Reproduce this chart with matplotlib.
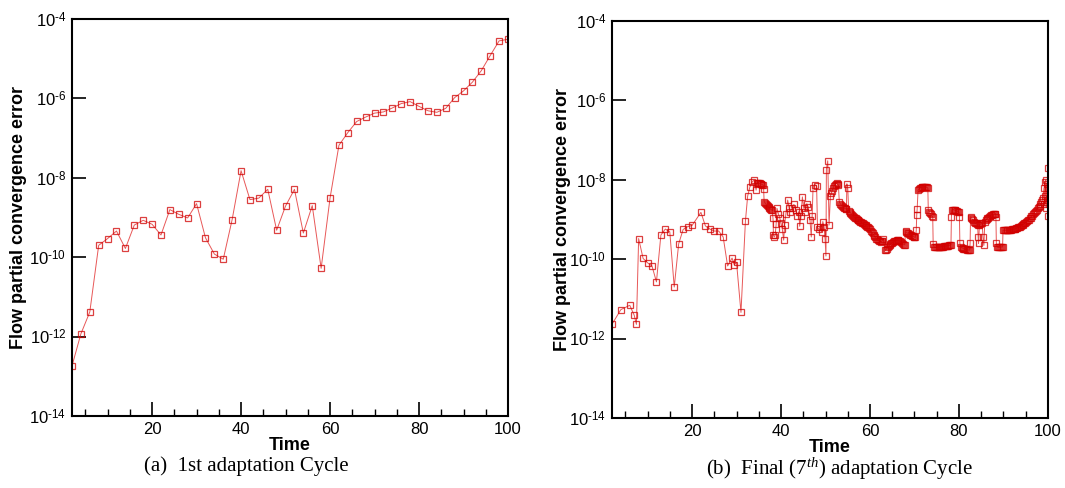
import matplotlib
matplotlib.use("Agg")
import matplotlib.pyplot as plt
import numpy as np

plt.rcParams['font.family'] = ['Liberation Sans', 'DejaVu Sans']
plt.rcParams['mathtext.fontset'] = 'custom'
plt.rcParams['mathtext.it'] = 'Liberation Serif:italic'
plt.rcParams['mathtext.rm'] = 'Liberation Sans'

# (a) 1st adaptation cycle: time and log10(error)
time_a = [2, 4, 6, 8, 10, 12, 14, 16, 18, 20, 22, 24, 26, 28, 30, 32, 34, 36, 38, 40,
          42, 44, 46, 48, 50, 52, 54, 56, 58, 60, 62, 64, 66, 68, 70, 72, 74, 76, 78, 80,
          82, 84, 86, 88, 90, 92, 94, 96, 98, 100]
exp_a = [-12.74, -11.93, -11.38, -9.70, -9.53, -9.34, -9.78, -9.19, -9.07, -9.17,
         -9.44, -8.80, -8.92, -9.01, -8.65, -9.51, -9.92, -10.05, -9.05, -7.82,
         -8.55, -8.51, -8.29, -9.32, -8.71, -8.29, -9.39, -8.70, -10.28, -8.51,
         -7.18, -6.86, -6.58, -6.47, -6.37, -6.34, -6.24, -6.13, -6.08, -6.20,
         -6.31, -6.35, -6.25, -5.98, -5.81, -5.59, -5.30, -4.92, -4.55, -4.51]

# (b) final (7th) adaptation cycle, (time, log10(error)) pairs in order
pts_b = [
    # early, sparse
    (2, -11.64), (4, -11.27), (6, -11.16), (7, -11.41), (7.5, -11.64), (8, -9.48), (9, -9.98),
    (10, -10.09), (11, -10.17), (12, -10.57), (13, -9.39), (14, -9.24), (15, -9.31), (16, -10.70),
    (17, -9.61), (18, -9.25), (19, -9.18), (20, -9.15), (22, -8.82), (23, -9.16), (24, -9.24),
    (25, -9.29), (26, -9.29), (27, -9.44), (28, -10.17), (29, -9.97), (29.5, -10.14), (30, -10.08),
    (31, -11.34), (32, -9.04), (32.5, -8.41), (33, -8.18), (33.5, -8.05), (34, -8.01), (34.4, -8.26),
    # first plateau
    (34.6, -8.09), (34.8, -8.08), (35.0, -8.08), (35.2, -8.09), (35.4, -8.10), (35.6, -8.11),
    (35.8, -8.12), (36.0, -8.13), (36.1, -8.24), (36.2, -8.55),
    (36.4, -8.58), (36.6, -8.61), (36.8, -8.64), (37.0, -8.67), (37.2, -8.69), (37.4, -8.71),
    (37.6, -8.73), (37.8, -8.75), (38.0, -8.76),
    # scattered middle
    (38.2, -8.97), (38.3, -9.40), (38.5, -9.44), (38.7, -9.38), (38.9, -9.12), (39.1, -8.72),
    (39.4, -8.85), (39.7, -8.95), (40.0, -9.10), (40.3, -9.25), (40.6, -9.52), (40.8, -9.14),
    (41.1, -8.85), (41.5, -8.51), (41.8, -8.70), (42.1, -8.80), (42.5, -8.72), (42.9, -8.62),
    (43.3, -8.75), (43.7, -8.90), (44.0, -8.80), (44.2, -9.17), (44.5, -8.90), (44.8, -8.43),
    (45.1, -8.70), (45.4, -8.80), (45.8, -8.60), (46.1, -8.68), (46.5, -9.00), (46.8, -9.44),
    (47.0, -8.90), (47.2, -8.20), (47.6, -8.12), (48.0, -8.15), (48.2, -9.20), (48.5, -9.25),
    (48.8, -9.18), (49.1, -9.31), (49.4, -9.05), (49.7, -9.20), (49.9, -9.48), (50.1, -9.92),
    (50.2, -7.74), (50.5, -7.52), (50.8, -9.14),
    # arc and long descent
    (51.1, -8.41), (51.3, -8.34), (51.5, -8.27), (51.7, -8.21), (51.9, -8.16), (52.1, -8.12),
    (52.3, -8.10), (52.5, -8.09), (52.7, -8.10), (52.9, -8.14), (53.1, -8.55),
    (53.3, -8.60), (53.5, -8.63), (53.7, -8.66), (53.9, -8.68), (54.1, -8.70), (54.3, -8.72),
    (54.5, -8.73), (54.7, -8.74), (54.8, -8.10), (55.0, -8.20),
    (55.2, -8.78), (55.4, -8.80), (55.6, -8.83), (55.8, -8.86), (56.0, -8.89), (56.2, -8.91),
    (56.4, -8.93), (56.6, -8.95), (56.8, -8.97), (57.0, -8.99), (57.2, -9.01), (57.4, -9.02),
    (57.6, -9.04), (57.8, -9.05), (58.0, -9.07), (58.2, -9.08), (58.4, -9.10), (58.6, -9.11),
    (58.8, -9.13), (59.0, -9.14), (59.2, -9.16), (59.4, -9.18), (59.6, -9.20), (59.8, -9.22),
    (60.0, -9.25), (60.2, -9.28), (60.4, -9.32), (60.6, -9.35), (60.8, -9.39), (61.0, -9.42),
    (61.2, -9.45), (61.4, -9.48), (61.6, -9.50), (61.8, -9.52), (62.0, -9.54), (62.2, -9.55),
    (62.4, -9.56), (62.6, -9.55), (62.8, -9.53), (63.0, -9.50),
    # hump
    (63.4, -9.78), (63.6, -9.76), (63.8, -9.73), (64.0, -9.70), (64.2, -9.67), (64.4, -9.64),
    (64.6, -9.62), (64.8, -9.60), (65.0, -9.58), (65.2, -9.56), (65.4, -9.55), (65.6, -9.54),
    (65.8, -9.53), (66.0, -9.52), (66.2, -9.52), (66.4, -9.52), (66.6, -9.53), (66.8, -9.55),
    (67.0, -9.57), (67.2, -9.59), (67.4, -9.61), (67.6, -9.63), (67.8, -9.64),
    (68.0, -9.30), (68.2, -9.32), (68.4, -9.34), (68.6, -9.35), (68.8, -9.37), (69.0, -9.38),
    (69.2, -9.40), (69.4, -9.41), (69.6, -9.42), (69.8, -9.43), (70.0, -9.44), (70.2, -9.45),
    (70.4, -9.27), (70.5, -8.89), (70.6, -8.74),
    # upper plateau, then steps
    (70.8, -8.26), (71.0, -8.23), (71.2, -8.21), (71.4, -8.20), (71.6, -8.19), (71.8, -8.18),
    (72.0, -8.18), (72.2, -8.18), (72.4, -8.18), (72.6, -8.18), (72.8, -8.19), (73.0, -8.21),
    (73.1, -8.76), (73.3, -8.80), (73.5, -8.84), (73.7, -8.87), (73.9, -8.90), (74.1, -8.93),
    (74.2, -9.62), (74.4, -9.69), (74.6, -9.70), (74.8, -9.70), (75.0, -9.70), (75.2, -9.70),
    (75.4, -9.69), (75.6, -9.69), (75.8, -9.69), (76.0, -9.68), (76.2, -9.68), (76.4, -9.68),
    (76.6, -9.67), (76.8, -9.67), (77.0, -9.67), (77.2, -9.66), (77.4, -9.66), (77.6, -9.66),
    (77.8, -9.65), (78.0, -9.65), (78.2, -9.63), (78.3, -8.93),
    (78.4, -8.76), (78.6, -8.75), (78.8, -8.75), (79.0, -8.76), (79.2, -8.77), (79.4, -8.78),
    (79.6, -8.79), (79.8, -8.80), (80.0, -8.82), (80.1, -8.93),
    (80.2, -9.60), (80.4, -9.69), (80.6, -9.71), (80.8, -9.72), (81.0, -9.73), (81.2, -9.74),
    (81.4, -9.75), (81.6, -9.75), (81.8, -9.76), (82.0, -9.76), (82.2, -9.77), (82.4, -9.77),
    (82.5, -9.60),
    (82.6, -8.93), (82.8, -8.96), (83.0, -8.99), (83.2, -9.02), (83.4, -9.05), (83.6, -9.08),
    (83.8, -9.10), (84.0, -9.12), (84.2, -9.14), (84.3, -9.44), (84.4, -9.60), (84.6, -9.14),
    (84.8, -9.12), (85.0, -9.10), (85.2, -9.08), (85.4, -9.44), (85.6, -9.65), (85.8, -9.05),
    (86.0, -9.02), (86.2, -8.99), (86.4, -8.97), (86.6, -8.95), (86.8, -8.93), (87.0, -8.91),
    (87.2, -8.89), (87.4, -8.88), (87.6, -8.87), (87.8, -8.86), (88.0, -8.85), (88.2, -8.85),
    (88.3, -8.93),
    (88.4, -9.60), (88.6, -9.69), (88.8, -9.70), (89.0, -9.70), (89.2, -9.70), (89.4, -9.69),
    (89.6, -9.69), (89.8, -9.69),
    # final rise
    (89.9, -9.27), (90.1, -9.27), (90.3, -9.27), (90.5, -9.27), (90.7, -9.27), (90.9, -9.27),
    (91.1, -9.27), (91.3, -9.26), (91.5, -9.26), (91.7, -9.26), (91.9, -9.25), (92.1, -9.25),
    (92.3, -9.24), (92.5, -9.24), (92.7, -9.23), (92.9, -9.22), (93.1, -9.21), (93.3, -9.20),
    (93.5, -9.19), (93.7, -9.18), (93.9, -9.17), (94.1, -9.15), (94.3, -9.14), (94.5, -9.12),
    (94.7, -9.10), (94.9, -9.08), (95.1, -9.06), (95.3, -9.04), (95.5, -9.02), (95.7, -9.00),
    (95.9, -8.97), (96.1, -8.95), (96.3, -8.92), (96.5, -8.90), (96.7, -8.87), (96.9, -8.84),
    (97.1, -8.81), (97.3, -8.78), (97.5, -8.75), (97.7, -8.72), (97.9, -8.69), (98.1, -8.65),
    (98.3, -8.61), (98.5, -8.57), (98.7, -8.52), (98.9, -8.46),
    (99.1, -8.20), (99.2, -8.60), (99.3, -8.05), (99.4, -8.40), (99.5, -8.00), (99.6, -8.70),
    (99.7, -8.10), (99.8, -8.50), (99.9, -8.20), (100, -7.69), (100, -8.91),
]
time_b = [p[0] for p in pts_b]
exp_b = [p[1] for p in pts_b]

ytick_vals = [1e-14, 1e-12, 1e-10, 1e-8, 1e-6, 1e-4]


def pow_label(v, pos):
    # 10^-n with a short hyphen like the original
    n = int(round(-np.log10(v)))
    return r'10$^{\text{-%d}}$' % n


fig = plt.figure(figsize=(10.65, 4.88), dpi=100)
ax1 = fig.add_axes([0.0676, 0.1475, 0.4094, 0.8135])
ax2 = fig.add_axes([0.5746, 0.1434, 0.4094, 0.8135])

for ax, t, e in [(ax1, time_a, exp_a), (ax2, time_b, exp_b)]:
    ax.plot(t, 10.0 ** np.array(e), color='#e02020', linewidth=0.7, alpha=0.75,
            marker='s', markersize=4, markerfacecolor='none',
            markeredgecolor=(0.82, 0.0, 0.0, 0.6), markeredgewidth=0.9)
    ax.set_yscale('log')
    ax.set_xlim(2, 100)
    ax.set_ylim(1e-14, 1e-4)
    ax.set_yticks(ytick_vals)
    ax.yaxis.set_major_formatter(matplotlib.ticker.FuncFormatter(pow_label))
    ax.yaxis.set_minor_locator(matplotlib.ticker.NullLocator())
    ax.set_xticks([20, 40, 60, 80, 100])
    ax.set_xticks(np.arange(5, 100, 5), minor=True)
    ax.tick_params(which='major', direction='in', length=10, width=1.2, labelsize=12,
                   top=False, right=False, pad=4)
    ax.tick_params(which='minor', direction='in', length=5, width=1.0, top=False, right=False)
    for s in ax.spines.values():
        s.set_linewidth(1.5)
    ax.set_xlabel('Time', fontsize=13, fontweight='bold', labelpad=0)
    ax.set_ylabel('Flow partial convergence error', fontsize=13, fontweight='bold')

ax1.yaxis.set_label_coords(-0.103, 0.5)
ax2.yaxis.set_label_coords(-0.094, 0.5)

fig.text(0.231, 0.045, '(a)  1st adaptation Cycle', family='Liberation Serif',
         fontsize=15, ha='center', va='center')
fig.text(0.788, 0.04, '(b)  Final (7$^{th}$) adaptation Cycle', family='Liberation Serif',
         fontsize=15, ha='center', va='center')

plt.savefig('out.png', dpi=100)
